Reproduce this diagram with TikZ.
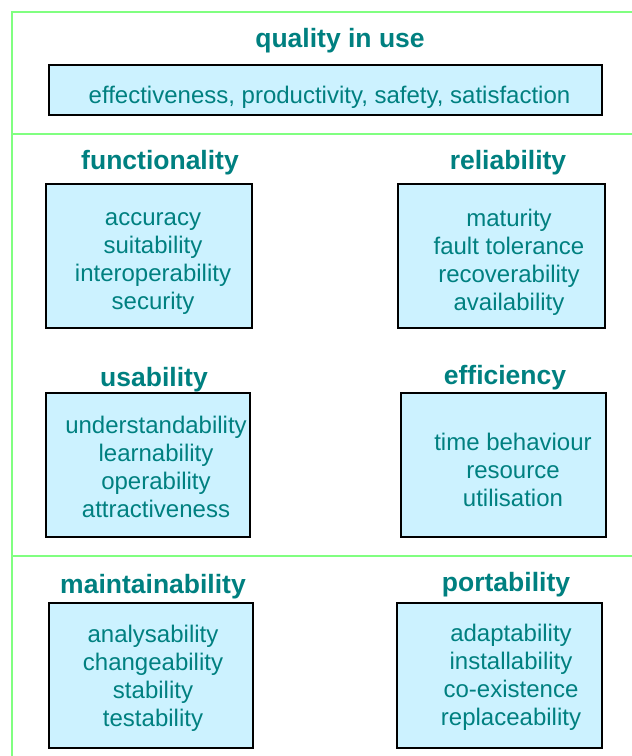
\documentclass[tikz,border=0pt]{standalone}
\usepackage{fontspec}
\setmainfont{Liberation Sans}
\definecolor{teal}{RGB}{0,128,128}
\definecolor{boxfill}{RGB}{204,242,255}
\definecolor{sepgreen}{RGB}{128,255,128}
\tikzset{
  qbox/.style={draw=black, line width=1.6pt, fill=boxfill, rectangle, inner sep=0pt},
  qtitle/.style={text=teal, font=\fontsize{26.5}{30}\selectfont\bfseries, inner sep=0pt},
  qtext/.style={text=teal, font=\fontsize{24}{28}\selectfont, align=center, inner sep=0pt},
  sepline/.style={draw=sepgreen, line width=2pt}
}
\begin{document}
\begin{tikzpicture}[x=1pt, y=-1pt]
\useasboundingbox (0,0) rectangle (632,756);
% separators
\coordinate (tl) at (12,12);
\coordinate (tr) at (632,12);
\coordinate (bl) at (12,756);
\coordinate (s1l) at (12,134);
\coordinate (s1r) at (632,134);
\coordinate (s2l) at (12,556);
\coordinate (s2r) at (632,556);
\draw[sepline] (tr) -- (tl) -- (bl);
\draw[sepline] (s1l) -- (s1r);
\draw[sepline] (s2l) -- (s2r);

% quality in use
\node[qtitle] (qiuT) at (340,41) {quality in use};
\node[qbox, minimum width=553pt, minimum height=50pt] (qiuB) at (325.5,90) {};
\node[qtext] (qiuX) at (329.5,97) {effectiveness, productivity, safety, satisfaction};

% functionality
\node[qtitle] (funT) at (160,163) {functionality};
\node[qbox, minimum width=206pt, minimum height=144pt] (funB) at (149,256) {};
\node[qtext] (funX) at (153,264) {accuracy\\suitability\\interoperability\\security};

% reliability
\node[qtitle] (relT) at (508,163) {reliability};
\node[qbox, minimum width=207pt, minimum height=144pt] (relB) at (501.5,256) {};
\node[qtext] (relX) at (509,262) {maturity\\fault tolerance\\recoverability\\availability};

% usability
\node[qtitle] (usaT) at (154,380) {usability};
\node[qbox, minimum width=204pt, minimum height=144pt] (usaB) at (148,465) {};
\node[qtext] (usaX) at (156,467) {understandability\\learnability\\operability\\attractiveness};

% efficiency
\node[qtitle] (effT) at (505,378) {efficiency};
\node[qbox, minimum width=205pt, minimum height=144pt] (effB) at (503.5,465) {};
\node[qtext] (effX) at (513,470) {time behaviour\\resource\\utilisation};

% maintainability
\node[qtitle] (maiT) at (153,587) {maintainability};
\node[qbox, minimum width=204pt, minimum height=145pt] (maiB) at (151,675.5) {};
\node[qtext] (maiX) at (153,678) {analysability\\changeability\\stability\\testability};

% portability
\node[qtitle] (porT) at (506,585) {portability};
\node[qbox, minimum width=205pt, minimum height=145pt] (porB) at (499.5,675.5) {};
\node[qtext] (porX) at (511,677.5) {adaptability\\installability\\co-existence\\replaceability};
\end{tikzpicture}
\end{document}
